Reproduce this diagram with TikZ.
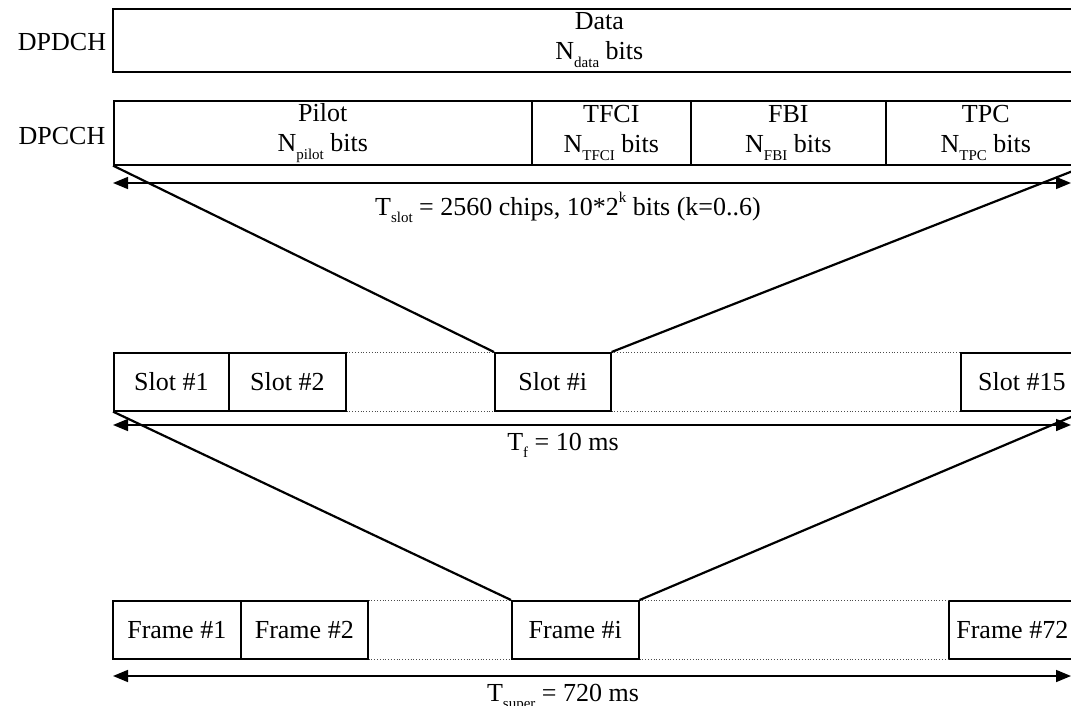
\documentclass[tikz,border=0pt]{standalone}
\usepackage{fontspec}
\setmainfont{Liberation Serif}
\usetikzlibrary{arrows.meta}
\newcommand\sbs[1]{\raisebox{-0.3em}{\fontsize{15}{15}\selectfont #1}}
\newcommand\sps[1]{\raisebox{0.5em}{\fontsize{15}{15}\selectfont #1}}
\tikzset{
  fld/.style={draw, line width=1.6pt, inner sep=0pt, anchor=north west, align=center,
    font=\fontsize{26}{30}\selectfont},
  lbl/.style={inner sep=0pt, font=\fontsize{26}{30}\selectfont},
  zoomline/.style={line width=2.2pt},
  dim/.style={line width=1.6pt, {Triangle[length=15pt,width=12pt]}-{Triangle[length=15pt,width=12pt]}},
  gap/.style={dotted, line width=0.8pt, gray!60!black}
}
\begin{document}
\begin{tikzpicture}[x=1pt,y=-1pt]
\useasboundingbox (0,0) rectangle (1071,706);
\clip (0,0) rectangle (1071,706);
% channel labels
\node[lbl, anchor=base] (ldpdch) at (62,51) {DPDCH};
\node[lbl, anchor=base] (ldpcch) at (62,145) {DPCCH};
% DPDCH
\node[fld, minimum width=973pt, minimum height=63pt] (data) at (112,8) {Data\\N\sbs{data} bits};
% DPCCH
\node[fld, minimum width=418pt, minimum height=64pt] (pilot) at (113,100) {Pilot\\N\sbs{pilot} bits};
\node[fld, minimum width=159pt, minimum height=64pt] (tfci) at (531,100) {TFCI\\N\sbs{TFCI} bits};
\node[fld, minimum width=195pt, minimum height=64pt] (fbi) at (690,100) {FBI\\N\sbs{FBI} bits};
\node[fld, minimum width=200pt, minimum height=64pt] (tpc) at (885,100) {TPC\\N\sbs{TPC} bits};
% slot dimension
\coordinate (a1l) at (113,183);
\coordinate (a1r) at (1071,183);
\draw[dim] (a1l) -- (a1r);
\node[lbl, anchor=base] (lslot) at (568,215) {T\sbs{slot} = 2560 chips, 10*2\sps{k} bits (k=0..6)};
% slots
\node[fld, minimum width=115pt, minimum height=58pt] (s1) at (113,352) {Slot \#1};
\node[fld, minimum width=117pt, minimum height=58pt] (s2) at (228,352) {Slot \#2};
\node[fld, minimum width=116pt, minimum height=58pt] (si) at (494,352) {Slot \#i};
\node[fld, minimum width=122pt, minimum height=58pt] (s15) at (960,352) {Slot \#15};
\draw[gap] (s2.north east) -- (si.north west);
\draw[gap] (si.north east) -- (s15.north west);
\draw[gap] (s2.south east) -- (si.south west);
\draw[gap] (si.south east) -- (s15.south west);
\draw[zoomline] (pilot.south west) -- (si.north west);
\draw[zoomline] (tpc.south east) -- (si.north east);
% frame dimension
\coordinate (a2l) at (113,425);
\coordinate (a2r) at (1071,425);
\draw[dim] (a2l) -- (a2r);
\node[lbl, anchor=base] (lf) at (563,450) {T\sbs{f} = 10 ms};
% frames
\node[fld, minimum width=128pt, minimum height=58pt] (f1) at (112,600) {Frame \#1};
\node[fld, minimum width=127pt, minimum height=58pt] (f2) at (240,600) {Frame \#2};
\node[fld, minimum width=127pt, minimum height=58pt] (fi) at (511,600) {Frame \#i};
\node[fld, minimum width=127pt, minimum height=58pt] (f72) at (948,600) {Frame \#72};
\draw[gap] (f2.north east) -- (fi.north west);
\draw[gap] (fi.north east) -- (f72.north west);
\draw[gap] (f2.south east) -- (fi.south west);
\draw[gap] (fi.south east) -- (f72.south west);
\draw[zoomline] (s1.south west) -- (fi.north west);
\draw[zoomline] (s15.south east) -- (fi.north east);
% superframe dimension
\coordinate (a3l) at (113,676);
\coordinate (a3r) at (1071,676);
\draw[dim] (a3l) -- (a3r);
\node[lbl, anchor=base] (lsup) at (563,701) {T\sbs{super} = 720 ms};
\end{tikzpicture}
\end{document}
